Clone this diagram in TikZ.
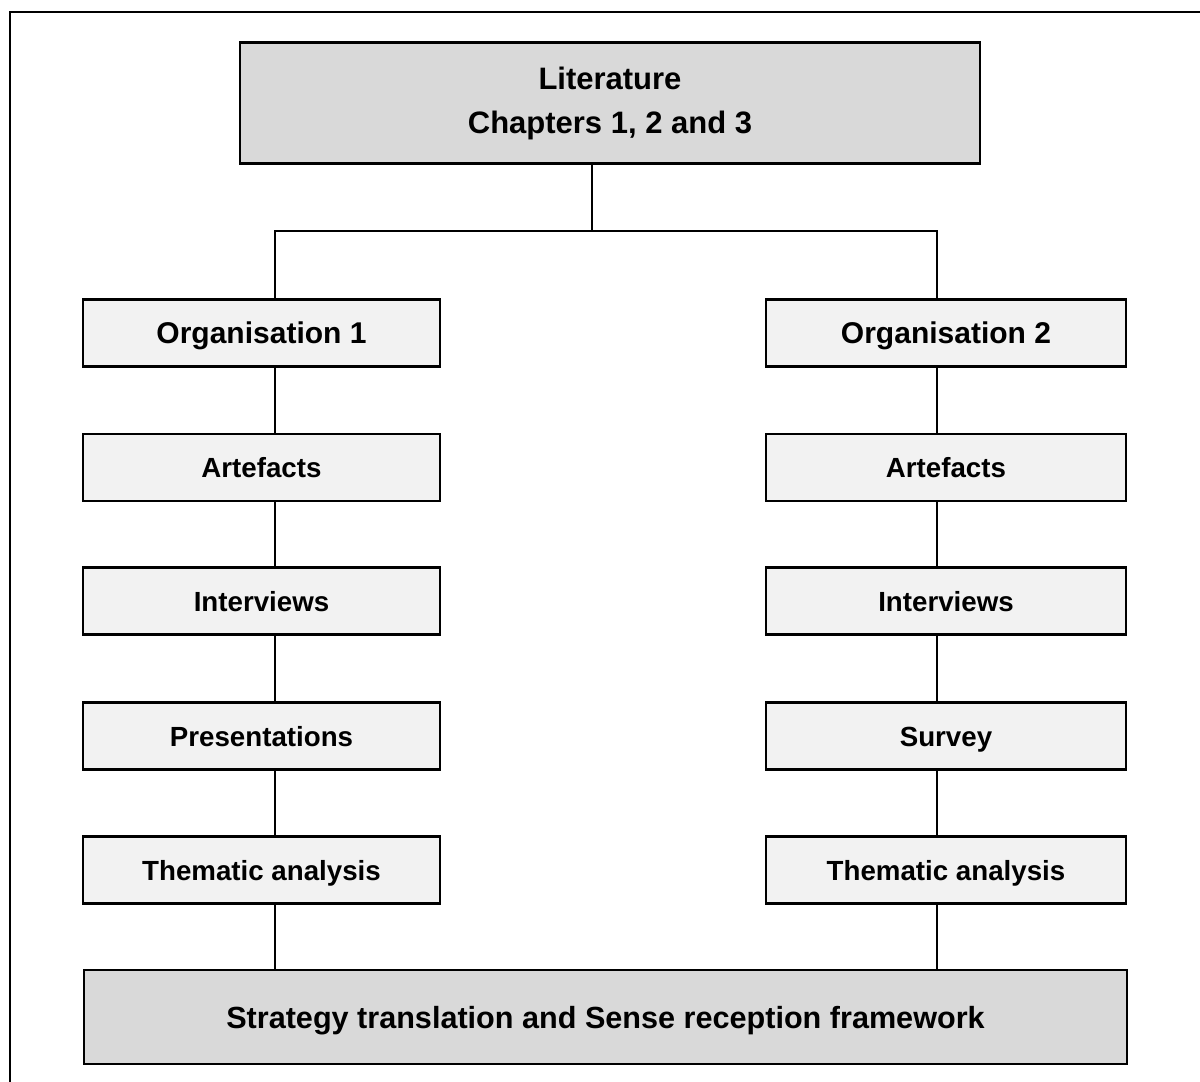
\documentclass[tikz,border=0pt]{standalone}
\usepackage{fontspec}
\setmainfont{Liberation Sans}
\definecolor{darkfill}{HTML}{D9D9D9}
\definecolor{lightfill}{HTML}{F2F2F2}
\begin{document}
\begin{tikzpicture}[x=1pt,y=-1pt,
  basebox/.style={draw=black, line width=2.5pt, inner sep=0pt, align=center},
  bigbox/.style={basebox, fill=darkfill, font=\bfseries\fontsize{31}{44}\selectfont},
  orgbox/.style={basebox, fill=lightfill, minimum height=67pt, text height=21.5pt, text depth=0pt, font=\bfseries\fontsize{30}{36}\selectfont},
  smallbox/.style={basebox, fill=lightfill, minimum height=67pt, text height=20pt, text depth=0pt, font=\bfseries\fontsize{27.7}{33}\selectfont},
  leftcol/.style={minimum width=357pt},
  rightcol/.style={minimum width=360pt},
  link/.style={draw=black, line width=2pt}
]
\useasboundingbox (0,0) rectangle (1200,1082);
\fill[white] (0,0) rectangle (1200,1082);
\draw[line width=2.5pt] (10,1085) -- (10,12) -- (1205,12);

\node[bigbox, minimum width=740pt, minimum height=121pt] (lit) at (610,103) {Literature\\Chapters 1, 2 and 3};

\node[orgbox, leftcol] (o1) at (261.5,333) {Organisation 1};
\node[smallbox, leftcol] (a1) at (261.5,467.5) {Artefacts};
\node[smallbox, leftcol] (i1) at (261.5,601) {Interviews};
\node[smallbox, leftcol] (p1) at (261.5,736) {Presentations};
\node[smallbox, leftcol] (t1) at (261.5,870) {Thematic analysis};

\node[orgbox, rightcol] (o2) at (946,333) {Organisation 2};
\node[smallbox, rightcol] (a2) at (946,467.5) {Artefacts};
\node[smallbox, rightcol] (i2) at (946,601) {Interviews};
\node[smallbox, rightcol] (s2) at (946,736) {Survey};
\node[smallbox, rightcol] (t2) at (946,870) {Thematic analysis};

\node[bigbox, minimum width=1043pt, minimum height=94pt, text height=22pt, text depth=0pt, font=\bfseries\fontsize{30.6}{36}\selectfont] (fw) at (605.5,1017) {Strategy translation and Sense reception framework};

\coordinate (split) at (592,231);
\coordinate (lx) at (275,231);
\coordinate (rx) at (937,231);

\draw[link] (lit.south -| split) -- (split);
\draw[link] (o1.north -| lx) -- (lx) -- (rx) -- (o2.north -| rx);

\foreach \u/\v in {o1/a1,a1/i1,i1/p1,p1/t1,t1/fw}{
  \draw[link] (\u.south -| lx) -- (\v.north -| lx);
}
\foreach \u/\v in {o2/a2,a2/i2,i2/s2,s2/t2,t2/fw}{
  \draw[link] (\u.south -| rx) -- (\v.north -| rx);
}
\end{tikzpicture}
\end{document}
